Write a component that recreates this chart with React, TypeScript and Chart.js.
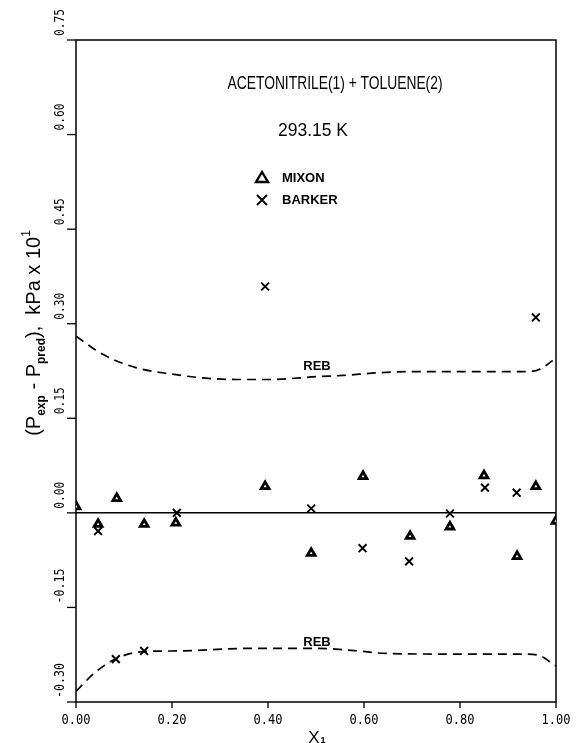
import React, { useEffect, useRef } from "react";
import { Chart, registerables } from "chart.js";

Chart.register(...registerables);

const xMixon = [0, 0.046, 0.085, 0.142, 0.208, 0.394, 0.49, 0.598, 0.696, 0.779, 0.85, 0.919, 0.958, 1.0];
const yMixon = [0.01, -0.018, 0.023, -0.018, -0.016, 0.042, -0.064, 0.058, -0.037, -0.022, 0.059, -0.069, 0.042, -0.013];
const xBarker = [0.046, 0.083, 0.142, 0.21, 0.394, 0.49, 0.597, 0.694, 0.779, 0.852, 0.918, 0.958];
const yBarker = [-0.029, -0.232, -0.219, 0.0, 0.359, 0.007, -0.056, -0.077, -0.001, 0.04, 0.032, 0.31];
const xRebUpper = [0, 0.057, 0.126, 0.196, 0.265, 0.335, 0.404, 0.501, 0.557, 0.626, 0.696, 0.835, 0.939, 0.967, 1.0];
const yRebUpper = [0.28, 0.251, 0.23, 0.2205, 0.214, 0.2115, 0.2115, 0.216, 0.218, 0.222, 0.224, 0.224, 0.224, 0.228, 0.246];
const xRebLower = [0, 0.04, 0.084, 0.141, 0.214, 0.358, 0.502, 0.574, 0.646, 0.79, 0.935, 0.964, 1.0];
const yRebLower = [-0.283, -0.253, -0.231, -0.22, -0.219, -0.215, -0.215, -0.218, -0.223, -0.224, -0.224, -0.226, -0.243];

const xTicks = [0, 0.2, 0.4, 0.6, 0.8, 1.0];
const xTickLabels = ["0.00", "0.20", "0.40", "0.60", "0.80", "1.00"];
const yTicks = [-0.3, -0.15, 0, 0.15, 0.3, 0.45, 0.6, 0.75];
const yTickLabels = ["-0.30", "-0.15", "0.00", "0.15", "0.30", "0.45", "0.60", "0.75"];

const titleLine1 = "ACETONITRILE(1) + TOLUENE(2)";
const titleLine2 = "293.15 K";
const legendMixon = "MIXON";
const legendBarker = "BARKER";
const curveLabel = "REB";

const zip = (xs: number[], ys: number[]) => xs.map((x, i) => ({ x, y: ys[i] }));

const framePlugin = {
  id: "framePlugin",
  beforeDatasetsDraw(chart: any) {
    const { ctx, chartArea: a, scales } = chart;
    const xs = scales.x;
    const ys = scales.y;
    ctx.save();
    ctx.strokeStyle = "#000";
    ctx.lineWidth = 1.5;
    ctx.strokeRect(a.left, a.top, a.right - a.left, a.bottom - a.top);
    const y0 = ys.getPixelForValue(0);
    ctx.beginPath();
    ctx.moveTo(a.left, y0);
    ctx.lineTo(a.right, y0);
    ctx.stroke();
    ctx.lineWidth = 1.3;
    yTicks.forEach((v) => {
      const py = ys.getPixelForValue(v);
      ctx.beginPath();
      ctx.moveTo(a.left - 9, py);
      ctx.lineTo(a.left, py);
      ctx.stroke();
    });
    xTicks.forEach((v) => {
      const px = xs.getPixelForValue(v);
      ctx.beginPath();
      ctx.moveTo(px, a.bottom);
      ctx.lineTo(px, a.bottom + 6);
      ctx.stroke();
    });
    ctx.restore();
  },
  afterDraw(chart: any) {
    const { ctx, chartArea: a, scales } = chart;
    const xs = scales.x;
    const ys = scales.y;
    ctx.save();
    ctx.fillStyle = "#000";
    // x tick labels
    ctx.font = "14px 'DejaVu Sans Mono'";
    ctx.textAlign = "center";
    ctx.textBaseline = "middle";
    xTicks.forEach((v, i) => {
      ctx.fillText(xTickLabels[i], xs.getPixelForValue(v), a.bottom + 18, 29);
    });
    // y tick labels rotated
    ctx.font = "14px 'DejaVu Sans Mono'";
    yTicks.forEach((v, i) => {
      const py = ys.getPixelForValue(v);
      ctx.save();
      ctx.translate(60, py - 4);
      ctx.rotate(-Math.PI / 2);
      ctx.textAlign = "left";
      ctx.textBaseline = "middle";
      const lbl = yTickLabels[i];
      ctx.fillText(lbl, 0, 0, lbl.length > 4 ? 35 : 27);
      ctx.restore();
    });
    // x axis title X1
    ctx.font = "17px 'Liberation Sans'";
    ctx.textAlign = "center";
    ctx.textBaseline = "alphabetic";
    ctx.fillText("X", 314, 743, 12);
    ctx.font = "bold 9px 'Liberation Sans'";
    ctx.fillText("1", 323, 743);
    // y axis title
    ctx.save();
    ctx.translate(40, 333);
    ctx.rotate(-Math.PI / 2);
    const segs: [string, string, number][] = [
      ["(P", "20px 'Liberation Sans'", 0],
      ["exp", "bold 12px 'Liberation Sans'", 5],
      [" - P", "20px 'Liberation Sans'", 0],
      ["pred", "bold 12px 'Liberation Sans'", 5],
      ["),  kPa x 10", "20px 'Liberation Sans'", 0],
      ["1", "12px 'Liberation Sans'", -10],
    ];
    let total = 0;
    segs.forEach(([t, f]) => {
      ctx.font = f;
      total += ctx.measureText(t).width;
    });
    let cx = -total / 2;
    ctx.textAlign = "left";
    ctx.textBaseline = "alphabetic";
    segs.forEach(([t, f, dy]) => {
      ctx.font = f;
      ctx.fillText(t, cx, dy);
      cx += ctx.measureText(t).width;
    });
    ctx.restore();
    // titles
    ctx.textAlign = "center";
    ctx.textBaseline = "middle";
    ctx.font = "18px 'Liberation Sans'";
    ctx.fillText(titleLine1, 335, 84, 215);
    ctx.fillText(titleLine2, 313, 131, 70);
    // legend
    ctx.textAlign = "left";
    ctx.font = "bold 13px 'Liberation Sans'";
    ctx.fillText(legendMixon, 282, 178);
    ctx.fillText(legendBarker, 282, 200);
    ctx.lineWidth = 2.4;
    ctx.beginPath();
    ctx.moveTo(262, 172);
    ctx.lineTo(268, 182);
    ctx.lineTo(256, 182);
    ctx.closePath();
    ctx.stroke();
    ctx.lineWidth = 1.8;
    ctx.beginPath();
    ctx.moveTo(257, 195);
    ctx.lineTo(267, 205);
    ctx.moveTo(267, 195);
    ctx.lineTo(257, 205);
    ctx.stroke();
    // REB labels
    ctx.textAlign = "center";
    ctx.font = "bold 13px 'Liberation Sans'";
    ctx.fillText(curveLabel, 317, 366);
    ctx.fillText(curveLabel, 317, 642);
    ctx.restore();
  },
};

export default function App() {
  const ref = useRef<HTMLCanvasElement>(null);
  useEffect(() => {
    document.body.style.margin = "0";
    const chart = new Chart(ref.current!, {
      type: "scatter",
      data: {
        datasets: [
          {
            label: "REB upper",
            data: zip(xRebUpper, yRebUpper),
            showLine: true,
            borderColor: "#000",
            borderWidth: 1.7,
            borderDash: [9, 6],
            pointRadius: 0,
            cubicInterpolationMode: "monotone",
          },
          {
            label: "REB lower",
            data: zip(xRebLower, yRebLower),
            showLine: true,
            borderColor: "#000",
            borderWidth: 1.7,
            borderDash: [9, 6],
            pointRadius: 0,
            cubicInterpolationMode: "monotone",
          },
          {
            label: legendMixon,
            data: zip(xMixon, yMixon),
            pointStyle: "triangle",
            pointRadius: 4.5,
            pointBorderWidth: 2.8,
            borderColor: "#000",
            backgroundColor: "#fff",
          },
          {
            label: legendBarker,
            data: zip(xBarker, yBarker),
            pointStyle: "crossRot",
            pointRadius: 5.5,
            pointBorderWidth: 1.9,
            borderColor: "#000",
            backgroundColor: "#000",
          },
        ],
      },
      options: {
        responsive: false,
        animation: false,
        devicePixelRatio: 1,
        layout: { padding: { left: 76, top: 40, right: 27, bottom: 41 } },
        plugins: { legend: { display: false }, tooltip: { enabled: false } },
        scales: {
          x: { type: "linear", display: false, min: 0, max: 1 },
          y: { type: "linear", display: false, min: -0.3, max: 0.75 },
        },
      },
      plugins: [framePlugin],
    });
    return () => chart.destroy();
  }, []);
  return (
    <div style={{ position: "absolute", left: 0, top: 0, width: 583, height: 743, background: "#fff" }}>
      <canvas ref={ref} width={583} height={743} />
    </div>
  );
}
